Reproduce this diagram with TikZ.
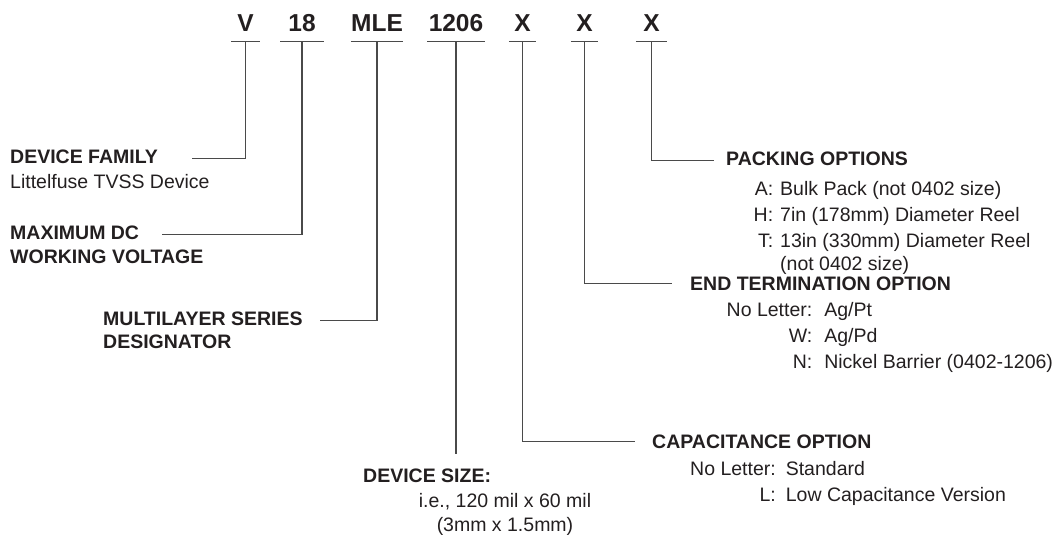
\documentclass[tikz,border=0pt]{standalone}
\usepackage{fontspec}
\setmainfont{Liberation Sans}
\usepackage{tikz}
\usetikzlibrary{positioning}
\definecolor{inkgray}{HTML}{231F20}
\definecolor{leadgray}{HTML}{4A4A4A}

\begin{document}
\begin{tikzpicture}[
  x=1pt, y=-1pt,
  every node/.style={inner sep=0pt, text=inkgray},
  code/.style={font=\bfseries\fontsize{24.5}{28}\selectfont, minimum width=#1, inner ysep=9pt, text depth=0pt, anchor=base},
  head/.style={font=\bfseries\fontsize{19.5}{24}\selectfont, anchor=base west},
  detail/.style={font=\fontsize{19.5}{26}\selectfont, anchor=base west},
  lead/.style={draw=leadgray, line width=1.3pt},
]
\useasboundingbox (0,0) rectangle (1060,535);

% part number
\node[code=28] (v) at (245.5,32) {V};
\node[code=43] (volt) at (302,32) {18};
\node[code=49] (mle) at (377,32) {MLE};
\node[code=57] (size) at (456,32) {1206};
\node[code=27] (cap) at (522.5,32) {X};
\node[code=27] (term) at (584.5,32) {X};
\node[code=31] (pack) at (651.5,32) {X};

% left hand fields
\node[head] (famhd) at (10,163) {DEVICE FAMILY};
\node[detail] (famtx) at (10,188) {Littelfuse TVSS Device};
\node[head] (volthd) at (10,239) {MAXIMUM DC};
\node[head] (volthdb) at (10,263) {WORKING VOLTAGE};
\node[head] (multihd) at (103,325) {MULTILAYER SERIES};
\node[head] (multihdb) at (103,348) {DESIGNATOR};

% size field
\node[head] (sizehd) at (363,482) {DEVICE SIZE:};
\node[detail, anchor=base] (sizetx) at (505,507) {\begin{tabular}[t]{@{}c@{}}
  i.e., 120 mil x 60 mil\\[-2pt] (3mm x 1.5mm)\end{tabular}};

% right hand fields
\node[head] (packhd) at (726,165) {PACKING OPTIONS};
\node[detail] (packtx) at (753.5,195) {\begin{tabular}[t]{@{}r@{\hspace{7pt}}l@{}}
  A: & Bulk Pack (not 0402 size)\\
  H: & 7in (178mm) Diameter Reel\\
  T: & 13in (330mm) Diameter Reel\\[-3pt]
     & (not 0402 size)\end{tabular}};
\node[head] (termhd) at (690,290) {END TERMINATION OPTION};
\node[detail] (termtx) at (726.5,316) {\begin{tabular}[t]{@{}r@{\hspace{12pt}}l@{}}
  No Letter: & Ag/Pt\\
  W: & Ag/Pd\\
  N: & Nickel Barrier (0402-1206)\end{tabular}};
\node[head] (caphd) at (652,448) {CAPACITANCE OPTION};
\node[detail] (captx) at (690,475) {\begin{tabular}[t]{@{}r@{\hspace{10pt}}l@{}}
  No Letter: & Standard\\
  L: & Low Capacitance Version\end{tabular}};

% leaders
\draw[lead] (v.south west) -- (v.south east) (v.south) |- ([xshift=34pt,yshift=-2pt]famhd.east);
\draw[lead] (volt.south west) -- (volt.south east) (volt.south) |- ([xshift=23pt,yshift=-2pt]volthd.east);
\draw[lead] (mle.south west) -- (mle.south east) (mle.south) |- ([xshift=17pt,yshift=-2pt]multihd.east);
\draw[lead] (size.south west) -- (size.south east) (size.south) -- ([yshift=14pt]size.south |- sizehd.north);
\draw[lead] (cap.south west) -- (cap.south east) (cap.south) |- ([xshift=-17pt]caphd.west);
\draw[lead] (term.south west) -- (term.south east) (term.south) |- ([xshift=-18pt]termhd.west);
\draw[lead] (pack.south west) -- (pack.south east) (pack.south) |- ([xshift=-12pt,yshift=-2pt]packhd.west);

\end{tikzpicture}
\end{document}
